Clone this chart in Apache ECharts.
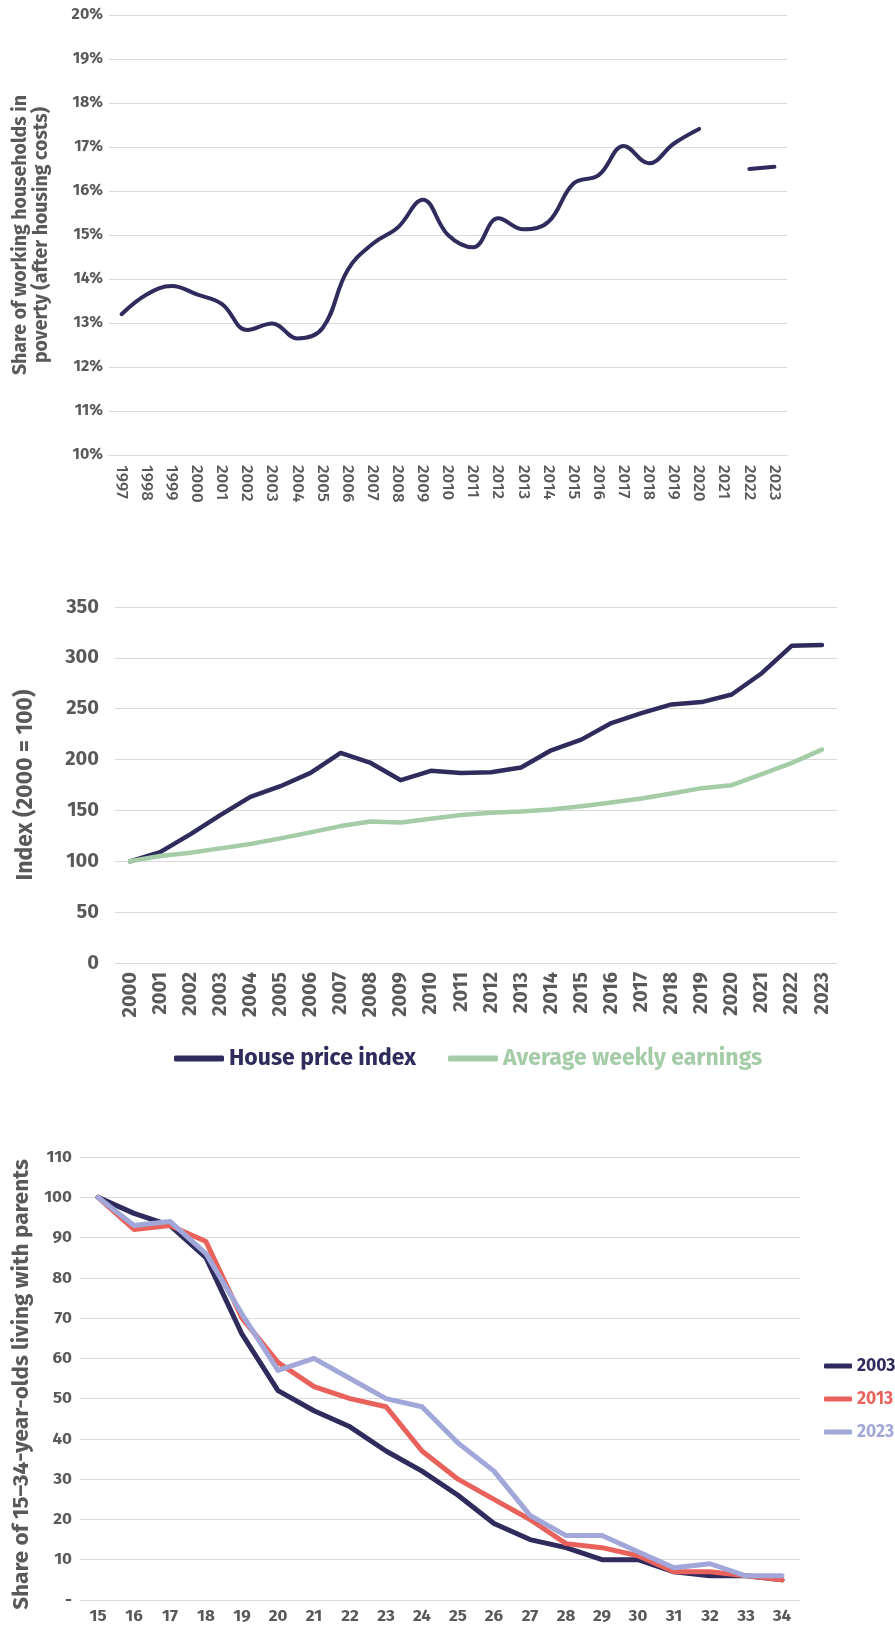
<!DOCTYPE html>
<html>
<head>
<meta charset="utf-8">
<script src="https://cdn.jsdelivr.net/npm/echarts@6/dist/echarts.min.js"></script>
<style>
html,body{margin:0;padding:0;background:#fff;}
#chart{width:895px;height:1625px;}
</style>
</head>
<body>
<div id="chart"></div>
<script>
// ---- Chart 1: working households in poverty (AHC) ----
const povertyYears = ['1997','1998','1999','2000','2001','2002','2003','2004','2005','2006','2007','2008','2009','2010','2011','2012','2013','2014','2015','2016','2017','2018','2019','2020','2021','2022','2023'];
const povertyShare = [13.2,13.65,13.84,13.65,13.43,12.84,12.99,12.65,12.88,14.2,14.8,15.17,15.8,15.0,14.72,15.38,15.13,15.3,16.17,16.36,17.02,16.63,17.08,17.41,null,16.5,16.55];

// ---- Chart 2: house prices vs earnings index ----
const indexYears = ['2000','2001','2002','2003','2004','2005','2006','2007','2008','2009','2010','2011','2012','2013','2014','2015','2016','2017','2018','2019','2020','2021','2022','2023'];
const housePriceIndex = [100,109,126.5,145.4,163.3,173.8,186.9,206.5,196.7,179.7,188.9,186.9,187.5,192.2,209.1,219.6,235.9,245.7,254.2,256.5,264,284.9,312,312.7];
const weeklyEarnings = [100,105.2,108.4,112.7,117,122.5,128.4,134.6,139.2,138.2,141.8,145.4,147.7,149,151,154.2,157.8,161.8,166.7,171.9,174.8,185.6,196.7,209.8];

// ---- Chart 3: living with parents by age ----
const ages = ['15','16','17','18','19','20','21','22','23','24','25','26','27','28','29','30','31','32','33','34'];
const parents2003 = [100,96,93,85,66,52,47,43,37,32,26,19,15,13,10,10,7,6,6,5];
const parents2013 = [100,92,93,89,70,59,53,50,48,37,30,25,20,14,13,11,7,7,6,5];
const parents2023 = [100,93,94,86,71,57,60,55,50,48,39,32,21,16,16,12,8,9,6,6];

const NAVY = '#2f2b5c', GREEN = '#a3cca7', RED = '#e8625b', LAV = '#a1a7d8';
const GREY = '#595959', GRID = '#d9d9d9';
const FONT = "'Fira Sans', Lato, 'Noto Sans', sans-serif";

const splitLine = {show:true, lineStyle:{color:GRID, width:1}};
const xLine = {show:true, lineStyle:{color:GRID, width:1}};

const chart = echarts.init(document.getElementById('chart'), null, {renderer:'canvas'});
chart.setOption({
  animation:false,
  textStyle:{fontFamily:FONT},
  grid:[
    {left:109, right:108, top:15, height:440},
    {left:115, right:58, top:607, height:356},
    {left:80, right:95, top:1157, height:444.5}
  ],
  legend:[
    {data:[{name:'House price index', textStyle:{color:NAVY}},{name:'Average weekly earnings', textStyle:{color:GREEN}}],
     left:169, top:1042, icon:'roundRect',
     itemWidth:50, itemHeight:6, itemGap:32,
     textStyle:{fontFamily:FONT, fontWeight:'bold', fontSize:23}},
    {data:[{name:'2003', textStyle:{color:NAVY}},{name:'2013', textStyle:{color:RED}},{name:'2023', textStyle:{color:LAV}}],
     orient:'vertical', left:819, top:1352, icon:'roundRect',
     itemWidth:28, itemHeight:5, itemGap:15,
     textStyle:{fontFamily:FONT, fontWeight:'bold', fontSize:17.5}}
  ],
  xAxis:[
    {gridIndex:0, type:'category', data:povertyYears, boundaryGap:true,
     axisLine:xLine, axisTick:{show:false},
     axisLabel:{rotate:-90, margin:10, fontSize:17, fontWeight:500, color:GREY, fontFamily:FONT, interval:0}},
    {gridIndex:1, type:'category', data:indexYears, boundaryGap:true,
     axisLine:xLine, axisTick:{show:false},
     axisLabel:{rotate:90, margin:9, fontSize:20, fontWeight:'bold', color:GREY, fontFamily:FONT, interval:0}},
    {gridIndex:2, type:'category', data:ages, boundaryGap:true,
     axisLine:xLine, axisTick:{show:false},
     axisLabel:{margin:8, fontSize:17, fontWeight:'bold', color:GREY, fontFamily:FONT, interval:0}}
  ],
  yAxis:[
    {gridIndex:0, type:'value', min:10, max:20, interval:1,
     axisLine:{show:false}, axisTick:{show:false}, splitLine:splitLine,
     axisLabel:{formatter:'{value}%', margin:6, fontSize:16, fontWeight:'bold', color:GREY, fontFamily:FONT},
     name:'Share of working households in\npoverty (after housing costs)', nameLocation:'middle', nameGap:57,
     nameTextStyle:{fontSize:19.5, fontWeight:'bold', color:GREY, fontFamily:FONT, lineHeight:21}},
    {gridIndex:1, type:'value', min:0, max:350, interval:50,
     axisLine:{show:false}, axisTick:{show:false}, splitLine:splitLine,
     axisLabel:{margin:16, fontSize:20, fontWeight:'bold', color:GREY, fontFamily:FONT},
     name:'Index (2000 = 100)', nameLocation:'middle', nameGap:78,
     nameTextStyle:{fontSize:23, fontWeight:'bold', color:GREY, fontFamily:FONT}},
    {gridIndex:2, type:'value', min:0, max:110, interval:10,
     axisLine:{show:false}, axisTick:{show:false}, splitLine:splitLine,
     axisLabel:{formatter:v=>v===0?'-':String(v), margin:8, fontSize:17, fontWeight:'bold', color:GREY, fontFamily:FONT},
     name:'Share of 15–34-year-olds living with parents', nameLocation:'middle', nameGap:46,
     nameTextStyle:{fontSize:22.5, fontWeight:'bold', color:GREY, fontFamily:FONT, padding:[0,12,0,0]}}
  ],
  series:[
    {name:'Working households in poverty', type:'line', xAxisIndex:0, yAxisIndex:0, data:povertyShare,
     smooth:0.4, showSymbol:false, symbol:'none', connectNulls:false,
     lineStyle:{color:NAVY, width:4, cap:'round'}, itemStyle:{color:NAVY}},
    {name:'House price index', type:'line', xAxisIndex:1, yAxisIndex:1, data:housePriceIndex,
     showSymbol:false, symbol:'none', lineStyle:{color:NAVY, width:4.5, cap:'round', join:'round'}, itemStyle:{color:NAVY}},
    {name:'Average weekly earnings', type:'line', xAxisIndex:1, yAxisIndex:1, data:weeklyEarnings,
     showSymbol:false, symbol:'none', lineStyle:{color:GREEN, width:4.5, cap:'round', join:'round'}, itemStyle:{color:GREEN}},
    {name:'2003', type:'line', xAxisIndex:2, yAxisIndex:2, data:parents2003,
     showSymbol:false, symbol:'none', lineStyle:{color:NAVY, width:5, cap:'round', join:'round'}, itemStyle:{color:NAVY}},
    {name:'2013', type:'line', xAxisIndex:2, yAxisIndex:2, data:parents2013,
     showSymbol:false, symbol:'none', lineStyle:{color:RED, width:5, cap:'round', join:'round'}, itemStyle:{color:RED}},
    {name:'2023', type:'line', xAxisIndex:2, yAxisIndex:2, data:parents2023,
     showSymbol:false, symbol:'none', lineStyle:{color:LAV, width:5, cap:'round', join:'round'}, itemStyle:{color:LAV}}
  ]
});
</script>
</body>
</html>
